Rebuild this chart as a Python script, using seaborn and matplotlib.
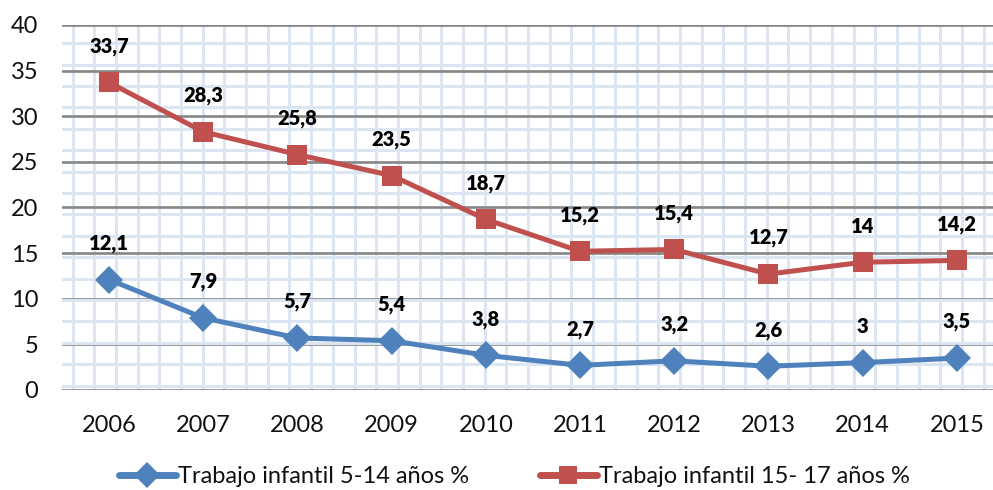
import pandas as pd
import seaborn as sns
import matplotlib.pyplot as plt
from matplotlib.ticker import MultipleLocator
from matplotlib.lines import Line2D

# Data
years = [2006, 2007, 2008, 2009, 2010, 2011, 2012, 2013, 2014, 2015]
ninos_5_14 = [12.1, 7.9, 5.7, 5.4, 3.8, 2.7, 3.2, 2.6, 3.0, 3.5]
ninos_15_17 = [33.7, 28.3, 25.8, 23.5, 18.7, 15.2, 15.4, 12.7, 14.0, 14.2]
labels_5_14 = ["12,1", "7,9", "5,7", "5,4", "3,8", "2,7", "3,2", "2,6", "3", "3,5"]
labels_15_17 = ["33,7", "28,3", "25,8", "23,5", "18,7", "15,2", "15,4", "12,7", "14", "14,2"]
series_names = ["Trabajo infantil 5-14 años %", "Trabajo infantil 15- 17 años %"]

blue = "#4F81BD"
red = "#C0504D"

sns.set_style("white")
plt.rcParams['font.family'] = ['Lato', 'DejaVu Sans']

df = pd.DataFrame({
    "year": years * 2,
    "valor": ninos_5_14 + ninos_15_17,
    "serie": [series_names[0]] * len(years) + [series_names[1]] * len(years),
})

fig = plt.figure(figsize=(9.93, 4.9), dpi=100)
ax = fig.add_axes([0.0624, 0.2041, 0.9486, 0.7449])

sns.lineplot(data=df, x="year", y="valor", hue="serie", style="serie",
             palette={series_names[0]: blue, series_names[1]: red},
             markers={series_names[0]: "D", series_names[1]: "s"},
             dashes=False, markersize=14, linewidth=3.6, markeredgewidth=0,
             legend=False, ax=ax, zorder=5)

# data labels
for lab_list, vals in [(labels_5_14, ninos_5_14), (labels_15_17, ninos_15_17)]:
    for x, v, t in zip(years, vals, lab_list):
        ax.annotate(t, (x, v), xytext=(0, 26), textcoords="offset points",
                    ha="center", va="center", fontsize=14.5, fontweight="heavy",
                    color="black", zorder=6)

ax.set_xlim(2005.5, 2015.5)
ax.set_ylim(0, 40)
ax.set_xticks(years)
ax.set_yticks(range(0, 41, 5))
ax.tick_params(axis="both", which="both", length=0, labelsize=17, labelcolor="#111111")
ax.tick_params(axis="y", pad=17)
ax.tick_params(axis="x", pad=18)
ax.set_xlabel("")
ax.set_ylabel("")

# background grid pattern (light blue)
ax.xaxis.set_minor_locator(MultipleLocator(0.2303, offset=-0.3007))
ax.yaxis.set_minor_locator(MultipleLocator(2.345, offset=0.475))
ax.grid(which="minor", color="#DCE6F2", linewidth=2.2, zorder=0)
ax.grid(which="major", axis="y", color="#868686", linewidth=1.9, zorder=1)
ax.grid(which="major", axis="x", visible=False)
ax.set_axisbelow(True)
for s in ax.spines.values():
    s.set_visible(False)

handles = [
    Line2D([], [], color=blue, marker="D", markersize=13, linewidth=5, markeredgewidth=0),
    Line2D([], [], color=red, marker="s", markersize=13, linewidth=5, markeredgewidth=0),
]
fig.legend(handles, series_names, loc="center", bbox_to_anchor=(0.518, 0.027),
           ncol=2, frameon=False, fontsize=17, handlelength=2.4,
           handletextpad=0.1, columnspacing=3.0, labelcolor="#111111")

fig.savefig("out.png", dpi=100)
